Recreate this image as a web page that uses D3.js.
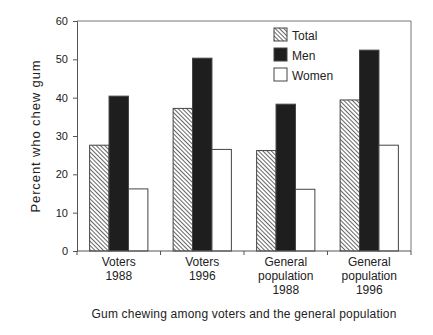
<!DOCTYPE html>
<html>
<head>
<meta charset="utf-8">
<script src="https://cdn.jsdelivr.net/npm/d3@7"></script>
<style>
  body { margin: 0; background: #fff; }
  text { font-family: "Liberation Sans", Arial, sans-serif; fill: #222; }
</style>
</head>
<body>
<div id="chart"></div>
<script>
// data
var groups = [["Voters", "1988"], ["Voters", "1996"], ["General", "population", "1988"], ["General", "population", "1996"]];
var seriesNames = ["Total", "Men", "Women"];
var totalValues = [27.6, 37.2, 26.2, 39.4];
var menValues = [40.4, 50.3, 38.3, 52.4];
var womenValues = [16.2, 26.5, 16.1, 27.6];
var yTicks = [0, 10, 20, 30, 40, 50, 60];

// set the dimensions and margins of the graph
var margin = {top: 21, right: 22, bottom: 84, left: 77},
    width = 433 - margin.left - margin.right,
    height = 335 - margin.top - margin.bottom;

var svg = d3.select("#chart")
  .append("svg")
    .attr("width", width + margin.left + margin.right)
    .attr("height", height + margin.top + margin.bottom);

// diagonal hatch for the "Total" bars
var defs = svg.append("defs");
defs.append("pattern")
    .attr("id", "hatch")
    .attr("patternUnits", "userSpaceOnUse")
    .attr("width", 3)
    .attr("height", 3)
    .attr("patternTransform", "rotate(-45)")
  .call(function(p) {
    p.append("rect").attr("width", 3).attr("height", 3).attr("fill", "#fff");
    p.append("line").attr("x1", 0).attr("y1", 0).attr("x2", 0).attr("y2", 3)
      .attr("stroke", "#333").attr("stroke-width", 1.5);
  });

var g = svg.append("g")
    .attr("transform", "translate(" + margin.left + "," + margin.top + ")");

var x = d3.scaleBand()
  .domain(d3.range(groups.length))
  .range([0, width])
  .paddingInner(0)
  .paddingOuter(0);

var xSub = d3.scaleBand()
  .domain(seriesNames)
  .range([0, x.bandwidth()])
  .paddingOuter(0.65)
  .paddingInner(0);

var y = d3.scaleLinear()
  .domain([0, 60])
  .range([height, 0]);

var fills = {Total: "url(#hatch)", Men: "#1e1e1e", Women: "#fff"};

// frame (top and right)
g.append("path")
  .attr("d", "M0,0H" + width + "V" + height)
  .attr("fill", "none")
  .attr("stroke", "#777")
  .attr("stroke-width", 1);

// bars
var rows = [];
groups.forEach(function(gr, i) {
  rows.push({i: i, s: "Total", v: totalValues[i]});
  rows.push({i: i, s: "Men", v: menValues[i]});
  rows.push({i: i, s: "Women", v: womenValues[i]});
});

g.selectAll("rect.bar")
  .data(rows)
  .enter()
  .append("rect")
    .attr("class", "bar")
    .attr("x", function(d) { return x(d.i) + xSub(d.s); })
    .attr("y", function(d) { return y(d.v); })
    .attr("width", xSub.bandwidth())
    .attr("height", function(d) { return height - y(d.v); })
    .attr("fill", function(d) { return fills[d.s]; })
    .attr("stroke", "#444")
    .attr("stroke-width", 1);

// Y axis
var yAxis = g.append("g")
  .call(d3.axisLeft(y).tickValues(yTicks).tickSize(4).tickPadding(5));
yAxis.selectAll("text").style("font-size", "11px");
yAxis.select(".domain").attr("stroke", "#555");
yAxis.selectAll(".tick line").attr("stroke", "#555");

// X axis, ticks at group boundaries
var xAxis = g.append("g")
  .attr("transform", "translate(0," + height + ")");
xAxis.append("line")
  .attr("x1", 0).attr("x2", width)
  .attr("stroke", "#555");
xAxis.selectAll("line.tk")
  .data(d3.range(groups.length + 1))
  .enter()
  .append("line")
    .attr("class", "tk")
    .attr("x1", function(d) { return d < groups.length ? x(d) : width; })
    .attr("x2", function(d) { return d < groups.length ? x(d) : width; })
    .attr("y1", 0).attr("y2", 4)
    .attr("stroke", "#555");

xAxis.selectAll("text.cat")
  .data(groups)
  .enter()
  .append("text")
    .attr("class", "cat")
    .attr("text-anchor", "middle")
    .attr("x", function(d, i) { return x(i) + x.bandwidth() / 2; })
    .attr("y", 15)
    .style("font-size", "12px")
  .selectAll("tspan")
  .data(function(d) { return d; })
  .enter()
  .append("tspan")
    .attr("x", function() { return d3.select(this.parentNode).attr("x"); })
    .attr("dy", function(d, k) { return k === 0 ? 0 : 14; })
    .text(function(d) { return d; });

// axis titles
g.append("text")
  .attr("transform", "translate(-37," + (height / 2) + ")rotate(-90)")
  .attr("text-anchor", "middle")
  .style("font-size", "13px")
  .style("letter-spacing", "0.9px")
  .text("Percent who chew gum");

g.append("text")
  .attr("x", width / 2)
  .attr("y", height + 67)
  .attr("text-anchor", "middle")
  .style("font-size", "12px")
  .style("letter-spacing", "0.2px")
  .text("Gum chewing among voters and the general population");

// legend
var legend = g.selectAll("g.legend")
  .data(seriesNames)
  .enter()
  .append("g")
    .attr("class", "legend")
    .attr("transform", function(d, i) { return "translate(197," + (7 + i * 20) + ")"; });

legend.append("rect")
  .attr("width", 13)
  .attr("height", 13)
  .attr("fill", function(d) { return fills[d]; })
  .attr("stroke", "#444");

legend.append("text")
  .attr("x", 18)
  .attr("y", 12)
  .style("font-size", "12px")
  .text(function(d) { return d; });
</script>
</body>
</html>
